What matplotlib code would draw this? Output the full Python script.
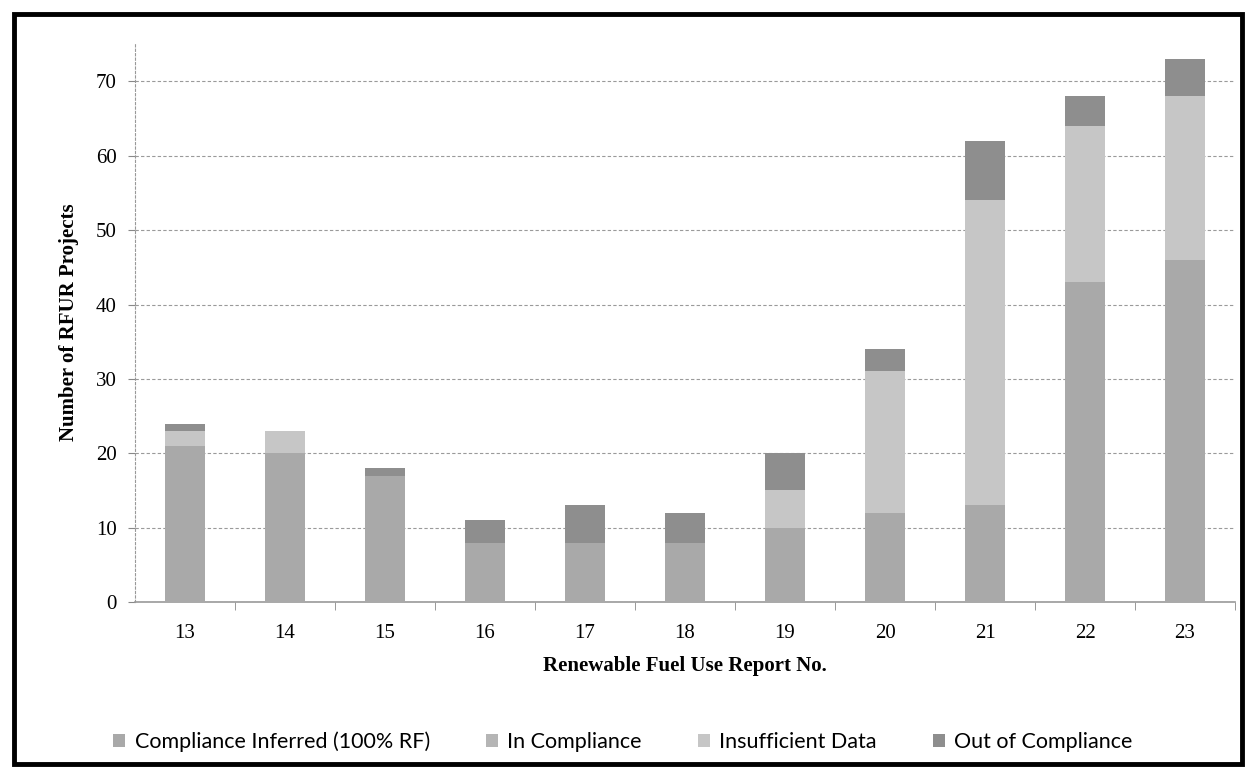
import matplotlib
matplotlib.use("Agg")
import matplotlib.pyplot as plt
from matplotlib.patches import Rectangle
import numpy as np

reports = ["13", "14", "15", "16", "17", "18", "19", "20", "21", "22", "23"]
compliance_inferred = [21, 20, 17, 8, 8, 8, 10, 12, 13, 43, 46]
in_compliance = [0, 0, 0, 0, 0, 0, 0, 0, 0, 0, 0]
insufficient_data = [2, 3, 0, 0, 0, 0, 5, 19, 41, 21, 22]
out_of_compliance = [1, 0, 1, 3, 5, 4, 5, 3, 8, 4, 5]

series = [
    ("Compliance Inferred (100% RF)", compliance_inferred, "#a9a9a9"),
    ("In Compliance", in_compliance, "#b5b5b5"),
    ("Insufficient Data", insufficient_data, "#c6c6c6"),
    ("Out of Compliance", out_of_compliance, "#8e8e8e"),
]

W, H = 1256, 778
fig = plt.figure(figsize=(W / 100, H / 100), dpi=100)
ax = fig.add_axes([135 / W, (H - 602) / H, 1100 / W, 560 / H])

x = np.arange(len(reports))
bottom = np.zeros(len(reports))
for name, vals, col in series:
    v = np.array(vals, dtype=float)
    ax.bar(x, v, 0.4, bottom=bottom, color=col, label=name, zorder=3, linewidth=0)
    bottom += v

ax.set_xlim(-0.5, len(reports) - 0.5)
ax.set_ylim(0, 75.3)
ax.set_yticks(np.arange(0, 71, 10))
ax.set_xticks(x)
ax.set_xticklabels(reports)
ax.set_xticks(np.arange(0.5, len(reports) - 0.4, 1), minor=True)
ax.tick_params(axis="x", which="major", length=0, pad=16)
ax.tick_params(axis="x", which="minor", length=6, color="#888888")
ax.tick_params(axis="y", length=5, color="#888888", pad=8)
for lab in ax.get_xticklabels() + ax.get_yticklabels():
    lab.set_fontfamily("Liberation Serif")
    lab.set_fontsize(15)

ax.yaxis.grid(True, color="#9a9a9a", linestyle=(0, (3, 2)), linewidth=0.8, zorder=0)
for s in ["top", "right"]:
    ax.spines[s].set_visible(False)
ax.spines["left"].set_color("#999999")
ax.spines["left"].set_linestyle((0, (2, 2)))
ax.spines["left"].set_linewidth(0.8)
ax.spines["bottom"].set_color("#999999")
ax.spines["bottom"].set_linewidth(1.2)

ax.set_ylabel("Number of RFUR Projects", fontfamily="Liberation Serif",
              fontweight="bold", fontsize=15, labelpad=12)
ax.set_xlabel("Renewable Fuel Use Report No.", fontfamily="Liberation Serif",
              fontweight="bold", fontsize=15, labelpad=9)

leg = fig.legend(loc="center", bbox_to_anchor=(0.496, (H - 742) / H), ncol=4,
                 frameon=False, prop={"family": "Lato", "size": 15.5},
                 handlelength=0.55, handleheight=0.55, handletextpad=0.45,
                 columnspacing=2.6)

fig.patches.append(Rectangle((14 / W, 14 / H), (W - 28) / W, (H - 28) / H,
                             transform=fig.transFigure, fill=False,
                             edgecolor="black", linewidth=3.5))

fig.savefig("out.png", dpi=100)
